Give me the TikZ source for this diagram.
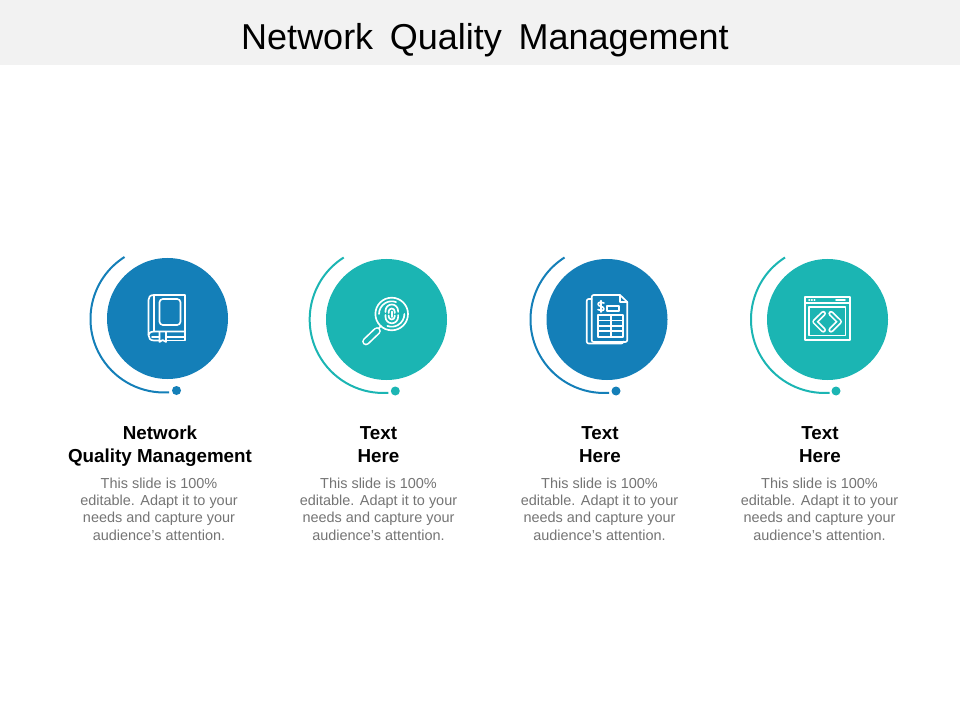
\documentclass[tikz,border=0pt]{standalone}
\usepackage{fontspec}
\setmainfont{Liberation Sans}
\usepackage{xcolor}
\usetikzlibrary{positioning}
\definecolor{bandgray}{HTML}{F2F2F2}
\definecolor{slideblue}{HTML}{147FB8}
\definecolor{slideteal}{HTML}{1BB5B3}
\definecolor{bodygray}{HTML}{747474}
\tikzset{
    disc/.style={circle,inner sep=0pt,minimum size=90.75pt},
    tipdot/.style={circle,inner sep=0pt,minimum size=6.75pt},
    swoosh/.style={line width=1.5pt},
    icon/.style={draw=white,line width=1.25pt,line join=round,line cap=round},
    heading/.style={align=center,inner sep=0pt,font=\fontsize{14.1}{17.25}\selectfont\bfseries},
    blurb/.style={align=center,inner sep=0pt,text=bodygray,font=\fontsize{10.85}{13}\selectfont}
}
\begin{document}
\begin{tikzpicture}[x=0.75pt,y=-0.75pt]
    \useasboundingbox (0,0) rectangle (960,720);
    \fill[bandgray] (0,0) rectangle (960,65);
    \node[font=\fontsize{27}{32}\selectfont] (title) at (485,40) {Network\hspace{12.5pt}Quality\hspace{12.5pt}Management};

    % Column 1: book
    \node[disc,fill=slideblue] (discA) at (167.5,318.5) {};
    \node[tipdot,fill=slideblue] (dotA) at (176.5,390.5) {};
    \coordinate (arcA) at (124.5,257);
    \draw[swoosh,slideblue] (arcA) arc[start angle=237.5,end angle=86,radius=73.5];
    \draw[icon] (185,295) -- (154,295) (185,295) -- (185,340.5) -- (166,340.5);
    \draw[icon] (154,295) .. controls (150,295) and (148.5,297) .. (148.5,300) -- (148.5,335) .. controls (148.5,338) and (150,340.5) .. (154,340.5) -- (159.5,340.5);
    \draw[icon] (154,295) -- (154,331.5);
    \draw[icon,rounded corners=2.5pt] (159.5,299) rectangle (180.5,325);
    \draw[icon] (185,331.5) -- (154,331.5) .. controls (150,331.5) and (148.5,334) .. (148.5,335);
    \draw[icon] (185,337) -- (166,337) (159.5,337) -- (152,337);
    \draw[icon] (159.5,332) -- (159.5,342) -- (162.7,340) -- (166,342) -- (166,332);

    % Column 2: magnifier
    \node[disc,fill=slideteal] (discB) at (386.5,319.5) {};
    \node[tipdot,fill=slideteal] (dotB) at (395.3,391) {};
    \coordinate (arcB) at (343.7,257.5);
    \draw[swoosh,slideteal] (arcB) arc[start angle=237.5,end angle=86,radius=73.5];
    \draw[icon] (391.7,314) circle[radius=16.3];
    \draw[icon] (379,314) arc[start angle=180,end angle=290,radius=12.7];
    \draw[icon] (404.4,314) arc[start angle=0,end angle=110,radius=12.7];
    % fingerprint
    \draw[icon] (385.5,312) -- (385.5,310.8) arc[start angle=180,end angle=360,radius=6.3] -- (398.1,312);
    \draw[icon] (385.5,315) -- (385.5,317) arc[start angle=180,end angle=0,radius=6.3] -- (398.1,315);
    \draw[icon] (388.7,313) -- (388.7,311.5) arc[start angle=180,end angle=360,radius=3] -- (394.7,313);
    \draw[icon] (388.7,315.5) -- (388.7,316.5) arc[start angle=180,end angle=0,radius=3] -- (394.7,315.5);
    \draw[icon] (391.7,311.5) -- (391.7,317);
    \draw[icon] (381,326) -- (378,329);
    \draw[icon,line width=5.8pt] (377,331) -- (366,341.5);
    \draw[slideteal,line width=3.3pt,line cap=round] (377,331) -- (366,341.5);

    % Column 3: document
    \node[disc,fill=slideblue] (discC) at (607,319.5) {};
    \node[tipdot,fill=slideblue] (dotC) at (616,391) {};
    \coordinate (arcC) at (564.5,257.5);
    \draw[swoosh,slideblue] (arcC) arc[start angle=237.5,end angle=86,radius=73.5];
    \draw[icon,rounded corners=1.5pt] (620,295) -- (591.7,295) -- (591.7,342) -- (627.3,342) -- (627.3,302);
    \draw[icon] (620,295) -- (620,302) -- (627.3,302) -- cycle;
    \draw[icon,rounded corners=1.5pt] (591.7,299) -- (586.7,299) -- (586.7,343.5) -- (623.3,343.5) -- (623.3,342);
    \draw[icon] (604,303) .. controls (602,301.5) and (598,302) .. (598,304.2) .. controls (598,306.8) and (604,306) .. (604,308.8) .. controls (604,311) and (600,311.2) .. (598,309.6);
    \draw[icon] (601,300.7) -- (601,312);
    \draw[icon] (607.3,305.7) rectangle (619.3,310.7);
    \draw[icon] (598.3,315) rectangle (622.7,336.7);
    \draw[icon] (598.3,320.4) -- (622.7,320.4) (598.3,325.8) -- (622.7,325.8) (598.3,331.2) -- (622.7,331.2) (610.7,315) -- (610.7,336.7);

    % Column 4: window
    \node[disc,fill=slideteal] (discD) at (827.5,319.5) {};
    \node[tipdot,fill=slideteal] (dotD) at (836,391) {};
    \coordinate (arcD) at (785,257.5);
    \draw[swoosh,slideteal] (arcD) arc[start angle=237.5,end angle=86,radius=73.5];
    \draw[icon] (805,296.7) rectangle (850,340);
    \draw[icon] (805,303.3) -- (850,303.3);
    \draw[icon] (809,300.3) -- (809.5,300.3) (811.6,300.3) -- (812.1,300.3) (814.2,300.3) -- (814.7,300.3) (836,300.3) -- (845,300.3);
    \draw[icon] (809.3,307.3) rectangle (845.5,335.5);
    \draw[icon,line width=4pt] (823.3,313.5) -- (815,321.7) -- (823.3,330);
    \draw[slideteal,line width=1.5pt,line join=round,line cap=round] (823.3,313.5) -- (815,321.7) -- (823.3,330);
    \draw[icon,line width=4pt] (831,313.5) -- (839.3,321.7) -- (831,330);
    \draw[slideteal,line width=1.5pt,line join=round,line cap=round] (831,313.5) -- (839.3,321.7) -- (831,330);

    % Captions
    \node[heading] (headA) at (160,446.5) {Network\\Quality Management};
    \node[blurb] (textA) at (159,509) {This slide is 100\%\\editable. Adapt it to your\\needs and capture your\\audience's attention.};
    \node[heading] (headB) at (378.5,444.5) {Text\\Here};
    \node[blurb] (textB) at (378.5,509) {This slide is 100\%\\editable. Adapt it to your\\needs and capture your\\audience's attention.};
    \node[heading] (headC) at (600,444.5) {Text\\Here};
    \node[blurb] (textC) at (599.5,509) {This slide is 100\%\\editable. Adapt it to your\\needs and capture your\\audience's attention.};
    \node[heading] (headD) at (820,444.5) {Text\\Here};
    \node[blurb] (textD) at (819.5,509) {This slide is 100\%\\editable. Adapt it to your\\needs and capture your\\audience's attention.};
\end{tikzpicture}
\end{document}
